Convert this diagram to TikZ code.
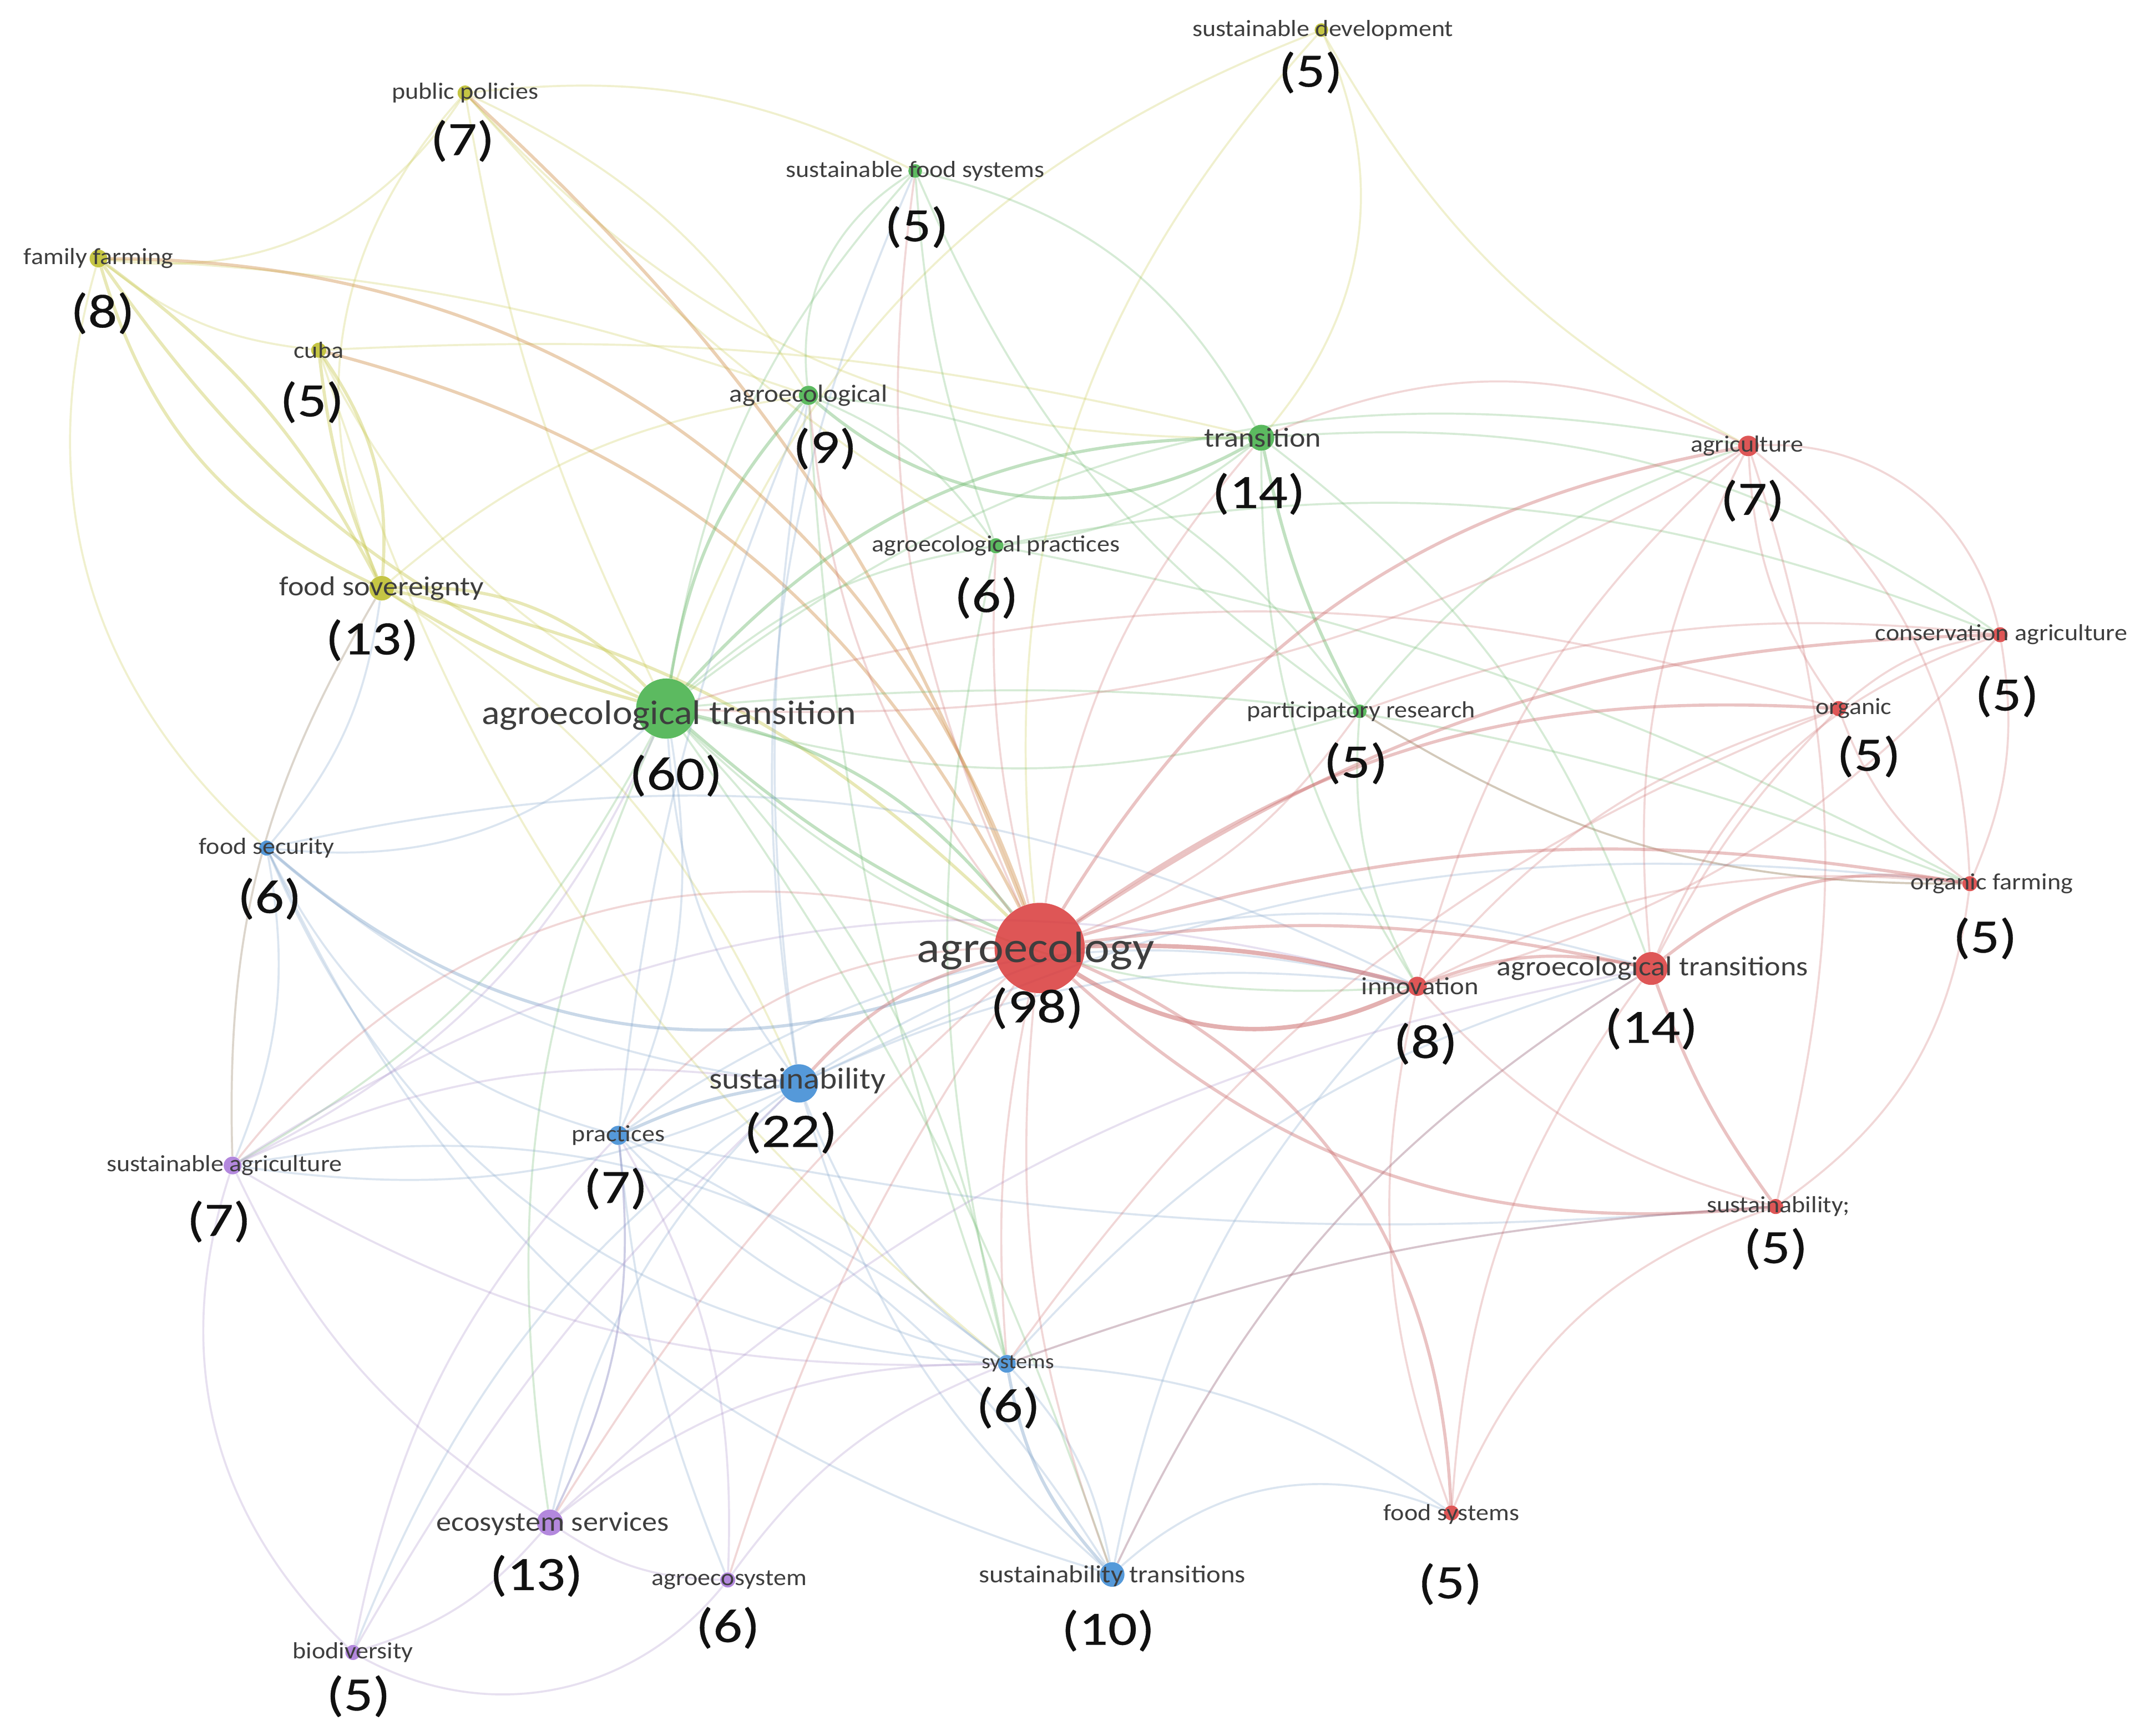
\documentclass[tikz,border=0pt]{standalone}
\usepackage{fontspec}
\setmainfont{Carlito}
\newfontfamily\labfont{Carlito}[FakeStretch=1.1]
\newfontfamily\numfont{Carlito}[FakeStretch=1.2, FakeBold=0.4]
\usetikzlibrary{backgrounds}
\definecolor{cR}{HTML}{D93F3F}
\definecolor{cG}{HTML}{45B04A}
\definecolor{cB}{HTML}{3D8BD4}
\definecolor{cY}{HTML}{BDBD2A}
\definecolor{cP}{HTML}{A878D8}
\definecolor{eR}{HTML}{CC7070}
\definecolor{eG}{HTML}{6CB86C}
\definecolor{eB}{HTML}{7FA2C8}
\definecolor{eY}{HTML}{C8C850}
\definecolor{eP}{HTML}{A890C8}
\definecolor{eO}{HTML}{D0904A}
\definecolor{labc}{HTML}{3E3E3E}
\definecolor{numc}{HTML}{111111}
\tikzset{
 nd/.style={circle, inner sep=0pt, minimum size=#1, fill opacity=0.88, draw=none},
 lab/.style={inner sep=0pt, text=labc, font={\labfont\fontsize{17}{17}\selectfont}},
 labm/.style={inner sep=0pt, text=labc, font={\labfont\fontsize{20}{20}\selectfont}},
 num/.style={inner sep=0pt, text=numc, font={\numfont\fontsize{35}{35}\selectfont}},
 e/.style={line width=1.5pt, draw opacity=0.28},
 em/.style={line width=2.3pt, draw opacity=0.42},
 est/.style={line width=3.2pt, draw opacity=0.55},
}
\begin{document}
\begin{tikzpicture}[x=1pt,y=-1pt]
\useasboundingbox (0,0) rectangle (1568,1269);
% ---------- nodes (circles) ----------
\node[nd=10pt, fill=cY] (sd) at (966,22) {};
\node[nd=11pt, fill=cY] (pp) at (340,68) {};
\node[nd=13pt, fill=cY] (ff) at (72,189) {};
\node[nd=11pt, fill=cY] (cu) at (233,256) {};
\node[nd=18pt, fill=cY] (fs) at (279,430) {};
\node[nd=10pt, fill=cG] (sfs) at (669,125) {};
\node[nd=14pt, fill=cG] (ag) at (591,289) {};
\node[nd=19pt, fill=cG] (tr) at (922,320) {};
\node[nd=11pt, fill=cG] (ap) at (728,399) {};
\node[nd=10pt, fill=cG] (pr) at (994,520) {};
\node[nd=44pt, fill=cG] (at) at (487,518) {};
\node[nd=11pt, fill=cB] (fsec) at (195,620) {};
\node[nd=66pt, fill=cR] (ae) at (760,693) {};
\node[nd=14pt, fill=cR] (inn) at (1036,721) {};
\node[nd=24pt, fill=cR] (ats) at (1207,708) {};
\node[nd=28pt, fill=cB] (su) at (584,792) {};
\node[nd=14pt, fill=cB] (pra) at (452,830) {};
\node[nd=13pt, fill=cP] (sa) at (170,852) {};
\node[nd=15pt, fill=cR] (agr) at (1278,326) {};
\node[nd=11pt, fill=cR] (ca) at (1462,464) {};
\node[nd=11pt, fill=cR] (org) at (1344,518) {};
\node[nd=11pt, fill=cR] (of) at (1440,646) {};
\node[nd=11pt, fill=cR] (sus) at (1298,882) {};
\node[nd=13pt, fill=cB] (sy) at (736,997) {};
\node[nd=19pt, fill=cP] (eco) at (402,1113) {};
\node[nd=11pt, fill=cP] (aes) at (532,1155) {};
\node[nd=18pt, fill=cB] (st) at (813,1151) {};
\node[nd=11pt, fill=cR] (fsy) at (1061,1106) {};
\node[nd=11pt, fill=cP] (bio) at (258,1208) {};
% ---------- edges ----------
\begin{pgfonlayer}{background}
% yellow
\foreach \a/\b/\c [evaluate=\c as \d using 1.6*\c] in {ff/pp/20, ff/cu/10, ff/ag/-5, ff/fsec/20, pp/fs/20, pp/ag/-10, pp/at/5, pp/tr/15, pp/ap/5, cu/at/10, cu/tr/-5, fs/ag/-10, fs/sa/10, sd/at/15, sd/tr/-20, sd/agr/10, sd/ae/15, pp/sfs/-10, cu/sy/10, fs/su/-10}
  \draw[e, eY] (\a) to[bend right=\d] (\b);
\foreach \a/\b/\c [evaluate=\c as \d using 1.6*\c] in {ff/fs/15, ff/fs/-8, ff/at/10, cu/fs/5, cu/fs/-12, fs/at/5, fs/at/-15, fs/ae/-10}
  \draw[em, eY] (\a) to[bend right=\d] (\b);
\foreach \a/\b/\c [evaluate=\c as \d using 1.6*\c] in {ff/ae/-22, cu/ae/-15, pp/ae/-8}
  \draw[em, eO] (\a) to[bend right=\d] (\b);
% green
\foreach \a/\b/\c [evaluate=\c as \d using 1.6*\c] in {sfs/ag/20, sfs/tr/-15, sfs/ap/5, sfs/at/10, ag/ap/-10, ag/pr/-15, tr/inn/10, tr/ap/-10, tr/ats/-10, ap/at/10, ap/ca/-10, ap/of/-5, pr/at/-10, pr/inn/10, pr/of/10, pr/agr/-10, at/eco/10, at/sy/-10, at/sa/-10, at/inn/15, at/st/-5, at/agr/-15, tr/ca/-12, ag/sy/5, ap/sy/8, at/of/-8, sfs/pr/10}
  \draw[e, eG] (\a) to[bend right=\d] (\b);
\foreach \a/\b/\c [evaluate=\c as \d using 1.6*\c] in {ag/tr/22, ag/at/10, tr/at/15, tr/pr/5, at/ae/5, at/ae/-12}
  \draw[em, eG] (\a) to[bend right=\d] (\b);
% blue
\foreach \a/\b/\c [evaluate=\c as \d using 1.6*\c] in {ag/su/5, sfs/su/10, at/su/10, at/pra/-10, at/fsec/-15, fs/fsec/-10, fsec/pra/15, fsec/sy/20, fsec/sa/-10, fsec/su/10, fsec/st/15, su/sy/10, su/st/10, su/inn/-10, su/eco/10, su/ats/-15, su/sa/-10, su/bio/10, pra/eco/-10, pra/st/-10, pra/sy/10, pra/aes/5, pra/sus/5, pra/inn/-15, sy/st/-10, sy/fsy/-10, sy/ats/-10, sy/sus/-5, sy/sa/15, st/fsy/-20, st/ats/-10, st/inn/-10, fsec/inn/-12, su/of/-10, pra/ag/-5}
  \draw[e, eB] (\a) to[bend right=\d] (\b);
\foreach \a/\b/\c [evaluate=\c as \d using 1.6*\c] in {fsec/ae/20, su/pra/5, sy/st/10}
  \draw[em, eB] (\a) to[bend right=\d] (\b);
% purple
\foreach \a/\b/\c [evaluate=\c as \d using 1.6*\c] in {sa/bio/20, sa/eco/10, sa/su/-10, sa/fs/-10, sa/sy/10, sa/inn/-15, eco/bio/-10, eco/aes/10, eco/pra/10, eco/ats/-10, bio/aes/25, bio/pra/-10, bio/su/-5, aes/pra/10, aes/sy/-10, sa/at/12, eco/sy/-12}
  \draw[e, eP] (\a) to[bend right=\d] (\b);
% red
\foreach \a/\b/\c [evaluate=\c as \d using 1.6*\c] in {sfs/ae/10, ag/ae/10, ap/ae/5, tr/ae/10, pr/ae/-10, ae/sy/5, ae/st/8, ae/pra/15, eco/ae/-5, aes/ae/-5, sa/ae/-22, agr/ats/10, agr/ca/-25, agr/org/10, agr/of/-15, agr/sus/-10, agr/inn/10, agr/tr/15, ca/org/10, ca/of/-10, ca/ats/15, ca/inn/-10, org/of/10, org/ats/5, org/inn/10, org/at/10, of/inn/10, of/sus/-15, of/pr/-10, inn/sus/10, inn/fsy/10, ats/fsy/10, ats/st/10, sus/fsy/15, sus/sy/5, agr/at/-10, org/sy/10, ca/pr/8}
  \draw[e, eR] (\a) to[bend right=\d] (\b);
\foreach \a/\b/\c [evaluate=\c as \d using 1.6*\c] in {ae/agr/-15, ae/ca/-10, ae/org/-12, ae/of/-8, ae/ats/-6, ae/sus/15, ae/fsy/-20, ae/su/10, of/ats/15, inn/ats/-10, ats/sus/5}
  \draw[em, eR] (\a) to[bend right=\d] (\b);
\foreach \a/\b/\c [evaluate=\c as \d using 1.6*\c] in {ae/inn/18, ae/inn/-5}
  \draw[est, eR] (\a) to[bend right=\d] (\b);
\end{pgfonlayer}
% ---------- labels ----------
\node[lab] (sd-l) at (967,22) {sustainable development};
\node[lab] (pp-l) at (340,68) {public policies};
\node[lab] (ff-l) at (72,189) {family farming};
\node[lab] (cu-l) at (233,256) {cuba};
\node[labm] (fs-l) at (279,430) {food sovereignty};
\node[lab] (sfs-l) at (669,125) {sustainable food systems};
\node[lab, font={\labfont\fontsize{18}{18}\selectfont}] (ag-l) at (591,289) {agroecological};
\node[labm] (tr-l) at (923,320) {transition};
\node[lab] (ap-l) at (728,399) {agroecological practices};
\node[lab] (pr-l) at (995,520) {participatory research};
\node[lab, font={\labfont\fontsize{25}{25}\selectfont}] (at-l) at (489,523) {agroecological transition};
\node[lab] (fsec-l) at (195,620) {food security};
\node[lab, font={\labfont\fontsize{32}{32}\selectfont}] (ae-l) at (757,695) {agroecology};
\node[lab, font={\labfont\fontsize{18}{18}\selectfont}] (inn-l) at (1038,721) {innovation};
\node[labm] (ats-l) at (1208,708) {agroecological transitions};
\node[lab, font={\labfont\fontsize{22}{22}\selectfont}] (su-l) at (583,790) {sustainability};
\node[lab] (pra-l) at (452,830) {practices};
\node[lab] (sa-l) at (164,852) {sustainable agriculture};
\node[lab] (agr-l) at (1277,326) {agriculture};
\node[lab] (ca-l) at (1463,464) {conservation agriculture};
\node[lab] (org-l) at (1355,518) {organic};
\node[lab] (of-l) at (1456,646) {organic farming};
\node[lab] (sus-l) at (1300,882) {sustainability;};
\node[lab, font={\labfont\fontsize{15}{15}\selectfont}] (sy-l) at (744,997) {systems};
\node[labm] (eco-l) at (404,1114) {ecosystem services};
\node[lab] (aes-l) at (533,1155) {agroecosystem};
\node[lab, font={\labfont\fontsize{18}{18}\selectfont}] (st-l) at (813,1152) {sustainability transitions};
\node[lab] (fsy-l) at (1061,1107) {food systems};
\node[lab] (bio-l) at (258,1208) {biodiversity};
% ---------- numbers ----------
\node[num] (sd-n) at (958,53) {(5)};
\node[num] (pp-n) at (338,103) {(7)};
\node[num] (ff-n) at (75,229) {(8)};
\node[num] (cu-n) at (228,294) {(5)};
\node[num] (fs-n) at (272,468) {(13)};
\node[num] (sfs-n) at (670,166) {(5)};
\node[num] (ag-n) at (603,328) {(9)};
\node[num] (tr-n) at (920,361) {(14)};
\node[num] (ap-n) at (721,437) {(6)};
\node[num] (pr-n) at (991,558) {(5)};
\node[num] (at-n) at (494,567) {(60)};
\node[num] (fsec-n) at (197,657) {(6)};
\node[num] (ae-n) at (758,737) {(98)};
\node[num] (inn-n) at (1042,763) {(8)};
\node[num] (ats-n) at (1207,752) {(14)};
\node[num] (su-n) at (578,828) {(22)};
\node[num] (pra-n) at (450,869) {(7)};
\node[num] (sa-n) at (160,893) {(7)};
\node[num] (agr-n) at (1281,366) {(7)};
\node[num] (ca-n) at (1467,509) {(5)};
\node[num] (org-n) at (1366,553) {(5)};
\node[num] (of-n) at (1451,686) {(5)};
\node[num] (sus-n) at (1298,913) {(5)};
\node[num] (sy-n) at (737,1029) {(6)};
\node[num] (eco-n) at (392,1152) {(13)};
\node[num] (aes-n) at (532,1190) {(6)};
\node[num] (st-n) at (810,1192) {(10)};
\node[num] (fsy-n) at (1060,1158) {(5)};
\node[num] (bio-n) at (262,1240) {(5)};
\end{tikzpicture}
\end{document}
